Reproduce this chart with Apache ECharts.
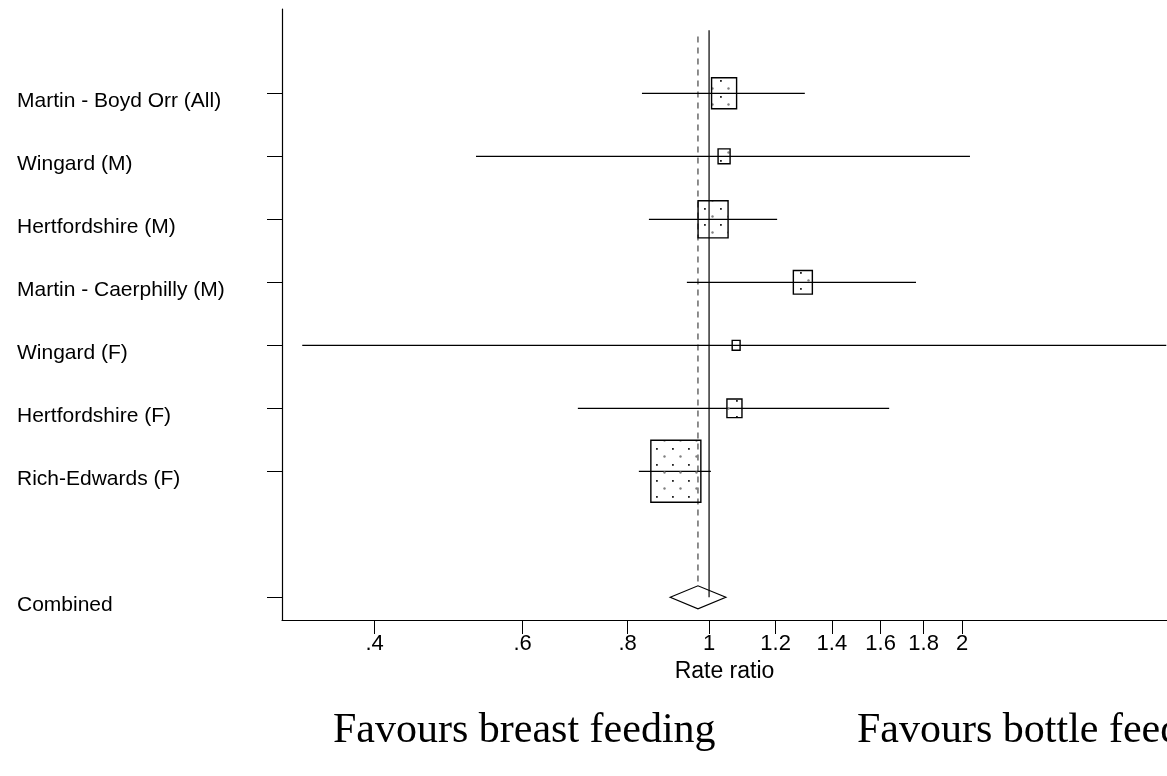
<!DOCTYPE html>
<html><head><meta charset="utf-8">
<script src="https://cdn.jsdelivr.net/npm/echarts@6/dist/echarts.min.js"></script>
<style>html,body{margin:0;padding:0;background:#fff}#c{width:1167px;height:776px}</style>
</head><body><div id="c"></div>
<script>
// ---- data ----
const studies = ['Martin - Boyd Orr (All)','Wingard (M)','Hertfordshire (M)','Martin - Caerphilly (M)','Wingard (F)','Hertfordshire (F)','Rich-Edwards (F)'];
const studyRows = [1,2,3,4,5,6,7];
const rateRatio = [1.042,1.042,1.011,1.293,1.077,1.072,0.913];
const ciLow = [0.832,0.528,0.848,0.941,0.328,0.698,0.825];
const ciHigh = [1.30,2.044,1.205,1.763,3.5,1.638,1.005];
const weights = [13.0,3.0,18.7,7.5,1.3,4.7,51.9];
const combinedName = 'Combined';
const combinedRow = 9;
const combinedEst = 0.970;
const combinedLow = 0.899;
const combinedHigh = 1.047;
const tickValues = [0.4,0.6,0.8,1,1.2,1.4,1.6,1.8,2];
const tickLabels = ['.4','.6','.8','1','1.2','1.4','1.6','1.8','2'];
const xTitle = 'Rate ratio';
const leftNote = 'Favours breast feeding';
const rightNote = 'Favours bottle feeding';

// ---- helpers ----
const ln = Math.log;
const rowNames = {};
studies.forEach((s,i)=>{ rowNames[studyRows[i]] = s; });
rowNames[combinedRow] = combinedName;
const rowTicks = studyRows.concat([combinedRow]);
const lnTicks = tickValues.map(ln);

// dotted pattern fill
const pat = document.createElement('canvas');
pat.width = 16; pat.height = 16;
const g = pat.getContext('2d');
g.fillStyle = '#222'; g.fillRect(0,0,1.8,1.8);
g.fillStyle = '#808080'; g.beginPath(); g.arc(8.5,8.5,1.2,0,Math.PI*2); g.fill();

const chart = echarts.init(document.getElementById('c'));
const SANS = "'Liberation Sans', Arial, sans-serif";
const SERIF = "'Liberation Serif', 'Times New Roman', serif";
const DIAMOND_HALF = 11.5;

chart.setOption({
  animation: false,
  backgroundColor: '#fff',
  grid: { left: 282, right: 0, top: 9, bottom: 156, containLabel: false },
  xAxis: {
    type: 'value', min: ln(0.3103), max: ln(3.507),
    axisLine: { show: true, onZero: false, lineStyle: { color: '#000', width: 1.2 } },
    axisTick: { show: true, customValues: lnTicks, length: 14, lineStyle: { color: '#000', width: 1 } },
    axisLabel: { show: true, customValues: lnTicks, margin: 13, color: '#000', fontSize: 22, fontFamily: SANS,
      formatter: v => { let b = 0; lnTicks.forEach((t,i)=>{ if (Math.abs(t-v) < Math.abs(lnTicks[b]-v)) b = i; }); return tickLabels[b]; } },
    splitLine: { show: false },
    name: xTitle, nameLocation: 'middle', nameGap: 36,
    nameTextStyle: { color: '#000', fontSize: 23, fontFamily: SANS }
  },
  yAxis: {
    type: 'value', inverse: true, min: -0.338, max: 9.36,
    axisLine: { show: true, onZero: false, lineStyle: { color: '#000', width: 1.2 } },
    axisTick: { show: true, customValues: rowTicks, length: 15, lineStyle: { color: '#000', width: 1 } },
    axisLabel: { show: true, customValues: rowTicks, margin: 265, align: 'left', verticalAlign: 'top', lineHeight: 16,
      color: '#000', fontSize: 21, fontFamily: SANS,
      formatter: v => rowNames[Math.round(v)] || '' },
    splitLine: { show: false }
  },
  graphic: [
    { type: 'text', left: 333, top: 710, style: { text: leftNote, font: '42px ' + SERIF, fill: '#000' } },
    { type: 'text', left: 857, top: 710, style: { text: rightNote, font: '42px ' + SERIF, fill: '#000' } }
  ],
  series: [
    { // null line
      type: 'line', data: [[ln(1), 0], [ln(1), combinedRow]], showSymbol: false, symbol: 'none',
      lineStyle: { color: '#000', width: 1.2 }, z: 2
    },
    { // combined estimate line, from top down to the diamond's upper vertex
      type: 'custom', z: 2,
      data: [[ln(combinedEst), 0.1, combinedRow]],
      renderItem: (params, api) => {
        const a = api.coord([api.value(0), api.value(1)]);
        const b = api.coord([api.value(0), api.value(2)]);
        return { type: 'line', shape: { x1: a[0], y1: a[1], x2: b[0], y2: b[1] - DIAMOND_HALF },
          style: { stroke: '#444', lineWidth: 1.2, lineDash: [6,5] } };
      }
    },
    { // confidence intervals
      type: 'custom', z: 3,
      data: studies.map((s,i)=>[ln(ciLow[i]), ln(ciHigh[i]), studyRows[i]]),
      renderItem: (params, api) => {
        const a = api.coord([api.value(0), api.value(2)]);
        const b = api.coord([api.value(1), api.value(2)]);
        return { type: 'line', shape: { x1: a[0], y1: a[1], x2: b[0], y2: b[1] }, style: { stroke: '#000', lineWidth: 1.2 } };
      }
    },
    { // weighted boxes
      type: 'custom', z: 4,
      data: studies.map((s,i)=>[ln(rateRatio[i]), studyRows[i], weights[i]]),
      renderItem: (params, api) => {
        const c = api.coord([api.value(0), api.value(1)]);
        const w = 6.94 * Math.sqrt(api.value(2));
        const h = w * 1.24;
        return { type: 'rect', shape: { x: c[0]-w/2, y: c[1]-h/2, width: w, height: h },
          style: { fill: { image: pat, repeat: 'repeat' }, stroke: '#000', lineWidth: 1.4 } };
      }
    },
    { // combined diamond
      type: 'custom', z: 4,
      data: [[ln(combinedLow), ln(combinedEst), ln(combinedHigh), combinedRow]],
      renderItem: (params, api) => {
        const y = api.value(3);
        const l = api.coord([api.value(0), y]);
        const m = api.coord([api.value(1), y]);
        const r = api.coord([api.value(2), y]);
        const hh = DIAMOND_HALF;
        return { type: 'polygon', shape: { points: [[l[0], l[1]], [m[0], m[1]-hh], [r[0], r[1]], [m[0], m[1]+hh]] },
          style: { fill: 'none', stroke: '#000', lineWidth: 1.2 } };
      }
    }
  ]
});
</script></body></html>
